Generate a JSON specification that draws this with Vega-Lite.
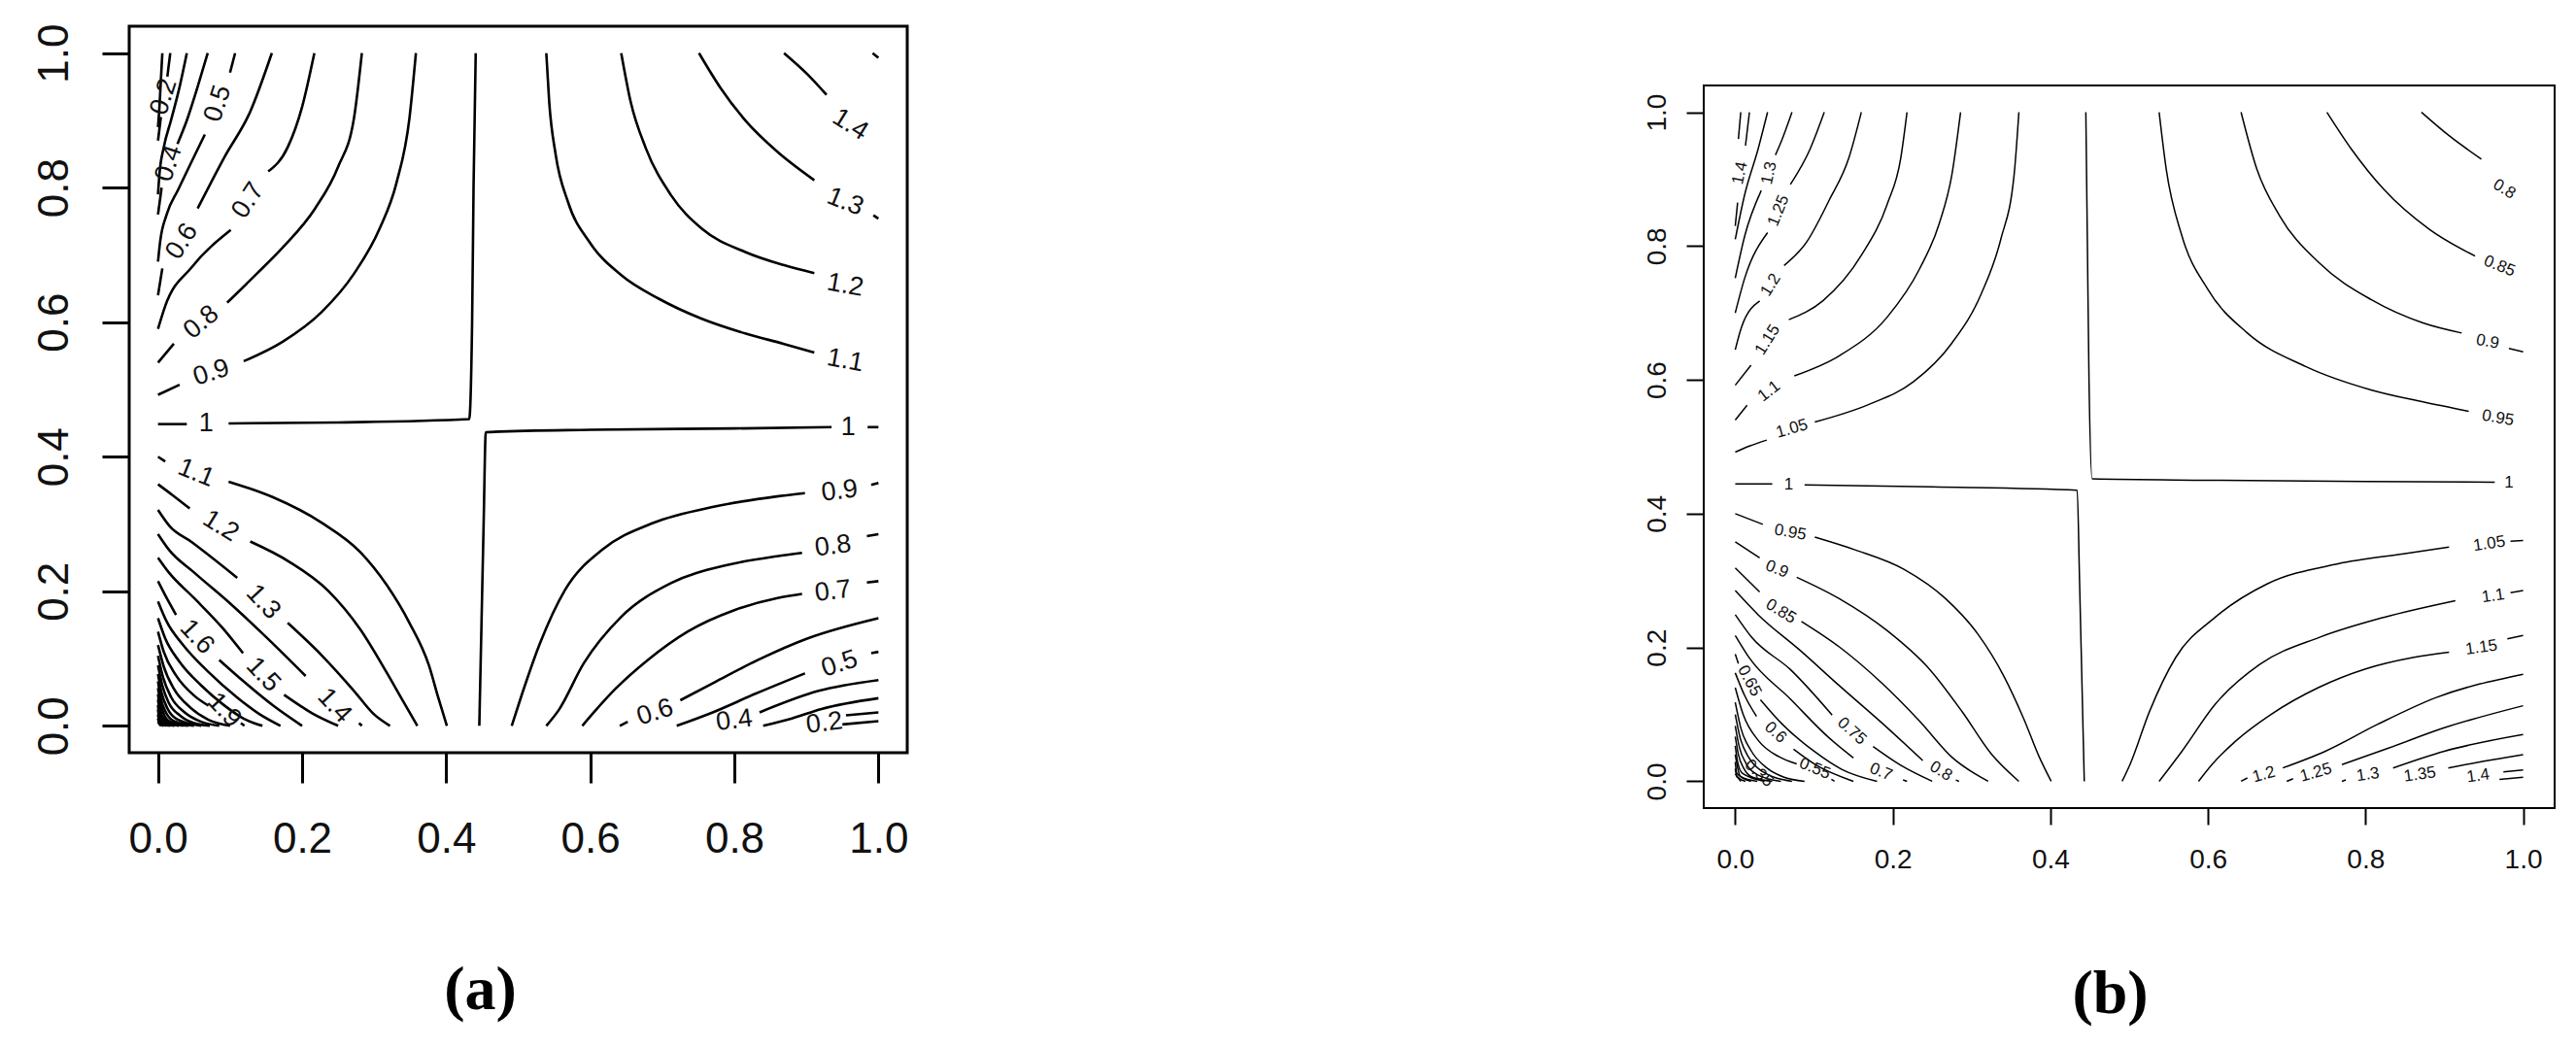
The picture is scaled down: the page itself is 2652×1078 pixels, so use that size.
{
"$schema":"https://vega.github.io/schema/vega-lite/v6.json",
"background":"white",
"padding":{"left":32,"top":22,"right":5,"bottom":5},
"config":{"font":"Liberation Sans"},
"datasets":{
"ca":[
{"s":"0.9","x":0.358,"y":1},{"s":"0.9","x":0.349,"y":0.903},{"s":"0.9","x":0.331,"y":0.807},{"s":"0.9","x":0.308,"y":0.74},{"s":"0.9","x":0.272,"y":0.672},{"s":"0.9","x":0.227,"y":0.615},{"s":"0.9","x":0.173,"y":0.571},{"s":"0.9","x":0.119,"y":0.542},
{"s":"0.9b","x":0.03,"y":0.507},{"s":"0.9b","x":0,"y":0.492},
{"s":"0.8","x":0.283,"y":1},{"s":"0.8","x":0.272,"y":0.903},{"s":"0.8","x":0.25,"y":0.831},{"s":"0.8","x":0.218,"y":0.769},{"s":"0.8","x":0.173,"y":0.711},{"s":"0.8","x":0.137,"y":0.672},{"s":"0.8","x":0.096,"y":0.629},
{"s":"0.8b","x":0.022,"y":0.568},{"s":"0.8b","x":0,"y":0.54},
{"s":"0.7","x":0.217,"y":1},{"s":"0.7","x":0.2,"y":0.92},{"s":"0.7","x":0.18,"y":0.86},{"s":"0.7","x":0.153,"y":0.824},
{"s":"0.7b","x":0.101,"y":0.737},{"s":"0.7b","x":0.047,"y":0.682},{"s":"0.7b","x":0.01,"y":0.624},{"s":"0.7b","x":0,"y":0.59},
{"s":"0.6","x":0.158,"y":1},{"s":"0.6","x":0.128,"y":0.913},{"s":"0.6","x":0.092,"y":0.845},{"s":"0.6","x":0.055,"y":0.769},
{"s":"0.6b","x":0.006,"y":0.68},{"s":"0.6b","x":0,"y":0.64},
{"s":"0.5","x":0.107,"y":1},{"s":"0.5","x":0.1,"y":0.971},
{"s":"0.5b","x":0.065,"y":0.879},{"s":"0.5b","x":0.045,"y":0.835},{"s":"0.5b","x":0.028,"y":0.797},{"s":"0.5b","x":0.012,"y":0.76},{"s":"0.5b","x":0.003,"y":0.72},{"s":"0.5b","x":0,"y":0.69},
{"s":"0.4","x":0.069,"y":1},{"s":"0.4","x":0.055,"y":0.95},{"s":"0.4","x":0.04,"y":0.9},{"s":"0.4","x":0.027,"y":0.865},
{"s":"0.4b","x":0.005,"y":0.8},{"s":"0.4b","x":0,"y":0.76},
{"s":"0.3","x":0.04,"y":1},{"s":"0.3","x":0.03,"y":0.95},{"s":"0.3","x":0.018,"y":0.9},{"s":"0.3","x":0.008,"y":0.86},{"s":"0.3","x":0.002,"y":0.82},{"s":"0.3","x":0,"y":0.79},
{"s":"0.2","x":0.017,"y":1},{"s":"0.2","x":0.013,"y":0.965},
{"s":"0.2b","x":0.004,"y":0.905},{"s":"0.2b","x":0,"y":0.87},
{"s":"0.1","x":0.006,"y":1},{"s":"0.1","x":0.004,"y":0.96},{"s":"0.1","x":0.002,"y":0.92},{"s":"0.1","x":0,"y":0.89},
{"s":"1a","x":0,"y":0.4485},{"s":"1a","x":0.04,"y":0.4485},
{"s":"1b","x":0.098,"y":0.4495},{"s":"1b","x":0.25,"y":0.451},{"s":"1b","x":0.432,"y":0.456},{"s":"1b","x":0.436,"y":0.6},{"s":"1b","x":0.438,"y":0.8},{"s":"1b","x":0.441,"y":1},
{"s":"1c","x":0.446,"y":0},{"s":"1c","x":0.449,"y":0.15},{"s":"1c","x":0.452,"y":0.3},{"s":"1c","x":0.455,"y":0.4365},{"s":"1c","x":0.6,"y":0.44},{"s":"1c","x":0.8,"y":0.442},{"s":"1c","x":0.935,"y":0.444},
{"s":"1d","x":0.985,"y":0.444},{"s":"1d","x":1,"y":0.444},
{"s":"1.1","x":0.539,"y":1},{"s":"1.1","x":0.543,"y":0.928},{"s":"1.1","x":0.552,"y":0.849},{"s":"1.1","x":0.569,"y":0.779},{"s":"1.1","x":0.599,"y":0.719},{"s":"1.1","x":0.643,"y":0.67},{"s":"1.1","x":0.695,"y":0.635},{"s":"1.1","x":0.755,"y":0.605},{"s":"1.1","x":0.816,"y":0.583},{"s":"1.1","x":0.868,"y":0.568},{"s":"1.1","x":0.911,"y":0.555},
{"s":"1.2","x":0.643,"y":1},{"s":"1.2","x":0.656,"y":0.928},{"s":"1.2","x":0.677,"y":0.859},{"s":"1.2","x":0.712,"y":0.789},{"s":"1.2","x":0.755,"y":0.739},{"s":"1.2","x":0.816,"y":0.704},{"s":"1.2","x":0.868,"y":0.685},{"s":"1.2","x":0.911,"y":0.673},
{"s":"1.3","x":0.751,"y":1},{"s":"1.3","x":0.781,"y":0.948},{"s":"1.3","x":0.816,"y":0.899},{"s":"1.3","x":0.859,"y":0.854},{"s":"1.3","x":0.911,"y":0.811},
{"s":"1.3b","x":0.993,"y":0.759},{"s":"1.3b","x":1,"y":0.754},
{"s":"1.4","x":0.869,"y":1},{"s":"1.4","x":0.902,"y":0.968},{"s":"1.4","x":0.928,"y":0.938},
{"s":"1.5","x":0.992,"y":1},{"s":"1.5","x":1,"y":0.993},
{"s":"0.9r","x":0.491,"y":0},{"s":"0.9r","x":0.504,"y":0.043},{"s":"0.9r","x":0.53,"y":0.122},{"s":"0.9r","x":0.565,"y":0.202},{"s":"0.9r","x":0.617,"y":0.262},{"s":"0.9r","x":0.686,"y":0.301},{"s":"0.9r","x":0.773,"y":0.326},{"s":"0.9r","x":0.859,"y":0.341},{"s":"0.9r","x":0.898,"y":0.346},
{"s":"0.9rb","x":0.99,"y":0.358},{"s":"0.9rb","x":1,"y":0.361},
{"s":"0.8r","x":0.539,"y":0},{"s":"0.8r","x":0.556,"y":0.023},{"s":"0.8r","x":0.591,"y":0.093},{"s":"0.8r","x":0.643,"y":0.162},{"s":"0.8r","x":0.712,"y":0.212},{"s":"0.8r","x":0.79,"y":0.239},{"s":"0.8r","x":0.859,"y":0.252},{"s":"0.8r","x":0.894,"y":0.257},
{"s":"0.8rb","x":0.984,"y":0.282},{"s":"0.8rb","x":1,"y":0.285},
{"s":"0.7r","x":0.589,"y":0},{"s":"0.7r","x":0.605,"y":0.02},{"s":"0.7r","x":0.635,"y":0.055},{"s":"0.7r","x":0.68,"y":0.098},{"s":"0.7r","x":0.735,"y":0.14},{"s":"0.7r","x":0.8,"y":0.172},{"s":"0.7r","x":0.86,"y":0.19},{"s":"0.7r","x":0.894,"y":0.196},
{"s":"0.7rb","x":0.984,"y":0.213},{"s":"0.7rb","x":1,"y":0.215},
{"s":"0.6r","x":0.641,"y":0},{"s":"0.6r","x":0.652,"y":0.006},
{"s":"0.6rb","x":0.725,"y":0.038},{"s":"0.6rb","x":0.773,"y":0.065},{"s":"0.6rb","x":0.833,"y":0.098},{"s":"0.6rb","x":0.902,"y":0.13},{"s":"0.6rb","x":1,"y":0.16},
{"s":"0.5r","x":0.72,"y":0},{"s":"0.5r","x":0.77,"y":0.02},{"s":"0.5r","x":0.83,"y":0.048},{"s":"0.5r","x":0.898,"y":0.078},
{"s":"0.5rb","x":0.99,"y":0.108},{"s":"0.5rb","x":1,"y":0.11},
{"s":"0.4rb","x":0.835,"y":0.02},{"s":"0.4rb","x":0.917,"y":0.052},{"s":"0.4rb","x":1,"y":0.068},
{"s":"0.3r","x":0.84,"y":0},{"s":"0.3r","x":0.88,"y":0.011},{"s":"0.3r","x":0.921,"y":0.025},{"s":"0.3r","x":1,"y":0.041},
{"s":"0.2rb","x":0.955,"y":0.0155},{"s":"0.2rb","x":1,"y":0.02},
{"s":"0.1r","x":0.95,"y":0.002},{"s":"0.1r","x":1,"y":0.007},
{"s":"1.1l","x":0,"y":0.4},{"s":"1.1l","x":0.01,"y":0.393},
{"s":"1.1lb","x":0.098,"y":0.363},{"s":"1.1lb","x":0.159,"y":0.34},{"s":"1.1lb","x":0.227,"y":0.302},{"s":"1.1lb","x":0.281,"y":0.258},{"s":"1.1lb","x":0.317,"y":0.21},{"s":"1.1lb","x":0.349,"y":0.153},{"s":"1.1lb","x":0.376,"y":0.09},{"s":"1.1lb","x":0.389,"y":0.042},{"s":"1.1lb","x":0.401,"y":0},
{"s":"1.2l","x":0,"y":0.359},{"s":"1.2l","x":0.02,"y":0.343},{"s":"1.2l","x":0.044,"y":0.323},
{"s":"1.2lb","x":0.128,"y":0.274},{"s":"1.2lb","x":0.182,"y":0.244},{"s":"1.2lb","x":0.236,"y":0.201},{"s":"1.2lb","x":0.281,"y":0.143},{"s":"1.2lb","x":0.317,"y":0.08},{"s":"1.2lb","x":0.34,"y":0.037},{"s":"1.2lb","x":0.36,"y":0},
{"s":"1.3l","x":0,"y":0.321},{"s":"1.3l","x":0.016,"y":0.297},{"s":"1.3l","x":0.047,"y":0.273},{"s":"1.3l","x":0.11,"y":0.22},
{"s":"1.3lb","x":0.18,"y":0.153},{"s":"1.3lb","x":0.227,"y":0.105},{"s":"1.3lb","x":0.272,"y":0.052},{"s":"1.3lb","x":0.299,"y":0.018},{"s":"1.3lb","x":0.322,"y":0},
{"s":"1.4l","x":0,"y":0.285},{"s":"1.4l","x":0.015,"y":0.262},{"s":"1.4l","x":0.05,"y":0.228},{"s":"1.4l","x":0.1,"y":0.182},{"s":"1.4l","x":0.15,"y":0.132},{"s":"1.4l","x":0.205,"y":0.074},
{"s":"1.4lb","x":0.279,"y":0.004},{"s":"1.4lb","x":0.283,"y":0},
{"s":"1.5l","x":0,"y":0.25},{"s":"1.5l","x":0.015,"y":0.228},{"s":"1.5l","x":0.05,"y":0.19},{"s":"1.5l","x":0.09,"y":0.145},{"s":"1.5l","x":0.118,"y":0.108},
{"s":"1.5lb","x":0.175,"y":0.046},{"s":"1.5lb","x":0.215,"y":0.018},{"s":"1.5lb","x":0.25,"y":0},
{"s":"1.6l","x":0,"y":0.215},{"s":"1.6l","x":0.012,"y":0.19},{"s":"1.6l","x":0.025,"y":0.165},
{"s":"1.6lb","x":0.085,"y":0.098},{"s":"1.6lb","x":0.12,"y":0.065},{"s":"1.6lb","x":0.16,"y":0.03},{"s":"1.6lb","x":0.2,"y":0},
{"s":"1.7","x":0,"y":0.185},{"s":"1.7","x":0.012,"y":0.155},{"s":"1.7","x":0.035,"y":0.12},{"s":"1.7","x":0.07,"y":0.08},{"s":"1.7","x":0.11,"y":0.042},{"s":"1.7","x":0.14,"y":0.018},{"s":"1.7","x":0.17,"y":0},
{"s":"1.8","x":0,"y":0.16},{"s":"1.8","x":0.01,"y":0.13},{"s":"1.8","x":0.03,"y":0.095},{"s":"1.8","x":0.06,"y":0.06},{"s":"1.8","x":0.09,"y":0.032},{"s":"1.8","x":0.12,"y":0.01},{"s":"1.8","x":0.145,"y":0},
{"s":"1.9","x":0,"y":0.14},{"s":"1.9","x":0.008,"y":0.11},{"s":"1.9","x":0.025,"y":0.075},{"s":"1.9","x":0.05,"y":0.045},{"s":"1.9","x":0.07,"y":0.03},
{"s":"1.9b","x":0.115,"y":0.004},{"s":"1.9b","x":0.12,"y":0},
{"s":"2.0","x":0,"y":0.12},{"s":"2.0","x":0.008,"y":0.088},{"s":"2.0","x":0.022,"y":0.055},{"s":"2.0","x":0.045,"y":0.027},{"s":"2.0","x":0.07,"y":0.009},{"s":"2.0","x":0.1,"y":0},
{"s":"2.1","x":0,"y":0.104},{"s":"2.1","x":0.007,"y":0.072},{"s":"2.1","x":0.018,"y":0.043},{"s":"2.1","x":0.037,"y":0.02},{"s":"2.1","x":0.06,"y":0.006},{"s":"2.1","x":0.085,"y":0},
{"s":"2.2","x":0,"y":0.09},{"s":"2.2","x":0.006,"y":0.06},{"s":"2.2","x":0.015,"y":0.034},{"s":"2.2","x":0.031,"y":0.015},{"s":"2.2","x":0.05,"y":0.004},{"s":"2.2","x":0.072,"y":0},
{"s":"2.3","x":0,"y":0.077},{"s":"2.3","x":0.005,"y":0.049},{"s":"2.3","x":0.013,"y":0.026},{"s":"2.3","x":0.026,"y":0.01},{"s":"2.3","x":0.06,"y":0},
{"s":"2.4","x":0,"y":0.066},{"s":"2.4","x":0.004,"y":0.04},{"s":"2.4","x":0.011,"y":0.02},{"s":"2.4","x":0.022,"y":0.007},{"s":"2.4","x":0.05,"y":0},
{"s":"2.5","x":0,"y":0.056},{"s":"2.5","x":0.004,"y":0.032},{"s":"2.5","x":0.009,"y":0.015},{"s":"2.5","x":0.018,"y":0.005},{"s":"2.5","x":0.042,"y":0},
{"s":"2.6","x":0,"y":0.047},{"s":"2.6","x":0.003,"y":0.025},{"s":"2.6","x":0.008,"y":0.011},{"s":"2.6","x":0.035,"y":0},
{"s":"2.7","x":0,"y":0.039},{"s":"2.7","x":0.003,"y":0.019},{"s":"2.7","x":0.007,"y":0.008},{"s":"2.7","x":0.029,"y":0},
{"s":"2.8","x":0,"y":0.031},{"s":"2.8","x":0.002,"y":0.014},{"s":"2.8","x":0.006,"y":0.005},{"s":"2.8","x":0.023,"y":0},
{"s":"2.9","x":0,"y":0.024},{"s":"2.9","x":0.002,"y":0.01},{"s":"2.9","x":0.005,"y":0.003},{"s":"2.9","x":0.017,"y":0},
{"s":"3.0","x":0,"y":0.017},{"s":"3.0","x":0.002,"y":0.006},{"s":"3.0","x":0.012,"y":0},
{"s":"3.1","x":0,"y":0.011},{"s":"3.1","x":0.002,"y":0.003},{"s":"3.1","x":0.008,"y":0},
{"s":"3.2","x":0,"y":0.006},{"s":"3.2","x":0.004,"y":0}
],
"cb":[
{"s":"1.05","x":0.36,"y":1},{"s":"1.05","x":0.354,"y":0.907},{"s":"1.05","x":0.337,"y":0.81},{"s":"1.05","x":0.312,"y":0.728},{"s":"1.05","x":0.275,"y":0.655},{"s":"1.05","x":0.226,"y":0.597},{"s":"1.05","x":0.169,"y":0.563},{"s":"1.05","x":0.101,"y":0.537},
{"s":"1.05b","x":0.04,"y":0.51},{"s":"1.05b","x":0.018,"y":0.501},{"s":"1.05b","x":0,"y":0.492},
{"s":"1.1","x":0.286,"y":1},{"s":"1.1","x":0.275,"y":0.907},{"s":"1.1","x":0.259,"y":0.834},{"s":"1.1","x":0.234,"y":0.766},{"s":"1.1","x":0.193,"y":0.694},{"s":"1.1","x":0.132,"y":0.636},{"s":"1.1","x":0.075,"y":0.606},
{"s":"1.1b","x":0.015,"y":0.562},{"s":"1.1b","x":0,"y":0.54},
{"s":"1.15","x":0.218,"y":1},{"s":"1.15","x":0.21,"y":0.931},{"s":"1.15","x":0.193,"y":0.863},{"s":"1.15","x":0.16,"y":0.786},{"s":"1.15","x":0.111,"y":0.718},{"s":"1.15","x":0.068,"y":0.69},
{"s":"1.15b","x":0.02,"y":0.622},{"s":"1.15b","x":0,"y":0.592},
{"s":"1.2","x":0.16,"y":1},{"s":"1.2","x":0.144,"y":0.931},{"s":"1.2","x":0.119,"y":0.868},{"s":"1.2","x":0.09,"y":0.805},{"s":"1.2","x":0.062,"y":0.771},
{"s":"1.2b","x":0.031,"y":0.718},{"s":"1.2b","x":0.008,"y":0.679},{"s":"1.2b","x":0,"y":0.645},
{"s":"1.25","x":0.113,"y":1},{"s":"1.25","x":0.095,"y":0.945},{"s":"1.25","x":0.07,"y":0.892},
{"s":"1.25b","x":0.041,"y":0.82},{"s":"1.25b","x":0.012,"y":0.752},{"s":"1.25b","x":0,"y":0.7},
{"s":"1.3","x":0.072,"y":1},{"s":"1.3","x":0.058,"y":0.955},{"s":"1.3","x":0.051,"y":0.936},
{"s":"1.3b","x":0.033,"y":0.883},{"s":"1.3b","x":0.012,"y":0.815},{"s":"1.3b","x":0,"y":0.752},
{"s":"1.35","x":0.041,"y":1},{"s":"1.35","x":0.029,"y":0.945},{"s":"1.35","x":0.012,"y":0.877},{"s":"1.35","x":0,"y":0.81},
{"s":"1.4","x":0.018,"y":1},{"s":"1.4","x":0.013,"y":0.95},
{"s":"1.4b","x":0.003,"y":0.865},{"s":"1.4b","x":0,"y":0.83},
{"s":"1.45","x":0.007,"y":1},{"s":"1.45","x":0.004,"y":0.96},
{"s":"1u","x":0.445,"y":1},{"s":"1u","x":0.447,"y":0.8},{"s":"1u","x":0.449,"y":0.6},{"s":"1u","x":0.453,"y":0.452},{"s":"1u","x":0.6,"y":0.45},{"s":"1u","x":0.8,"y":0.448},{"s":"1u","x":0.964,"y":0.447},
{"s":"1d","x":0,"y":0.4445},{"s":"1d","x":0.047,"y":0.4445},
{"s":"1d2","x":0.088,"y":0.443},{"s":"1d2","x":0.25,"y":0.44},{"s":"1d2","x":0.434,"y":0.435},{"s":"1d2","x":0.437,"y":0.3},{"s":"1d2","x":0.44,"y":0.15},{"s":"1d2","x":0.443,"y":0},
{"s":"0.95","x":0.538,"y":1},{"s":"0.95","x":0.547,"y":0.915},{"s":"0.95","x":0.567,"y":0.815},{"s":"0.95","x":0.6,"y":0.735},{"s":"0.95","x":0.65,"y":0.67},{"s":"0.95","x":0.724,"y":0.62},{"s":"0.95","x":0.807,"y":0.585},{"s":"0.95","x":0.873,"y":0.567},{"s":"0.95","x":0.931,"y":0.553},
{"s":"0.9","x":0.642,"y":1},{"s":"0.9","x":0.662,"y":0.915},{"s":"0.9","x":0.691,"y":0.845},{"s":"0.9","x":0.741,"y":0.775},{"s":"0.9","x":0.807,"y":0.72},{"s":"0.9","x":0.873,"y":0.685},{"s":"0.9","x":0.922,"y":0.67},
{"s":"0.9b","x":0.982,"y":0.647},{"s":"0.9b","x":1,"y":0.642},
{"s":"0.85","x":0.751,"y":1},{"s":"0.85","x":0.782,"y":0.945},{"s":"0.85","x":0.823,"y":0.885},{"s":"0.85","x":0.881,"y":0.825},{"s":"0.85","x":0.939,"y":0.785},
{"s":"0.8","x":0.871,"y":1},{"s":"0.8","x":0.906,"y":0.965},{"s":"0.8","x":0.947,"y":0.93},
{"s":"0.95l","x":0,"y":0.4},{"s":"0.95l","x":0.035,"y":0.384},
{"s":"0.95lb","x":0.101,"y":0.365},{"s":"0.95lb","x":0.152,"y":0.346},{"s":"0.95lb","x":0.214,"y":0.317},{"s":"0.95lb","x":0.267,"y":0.273},{"s":"0.95lb","x":0.308,"y":0.22},{"s":"0.95lb","x":0.341,"y":0.157},{"s":"0.95lb","x":0.366,"y":0.094},{"s":"0.95lb","x":0.386,"y":0.036},{"s":"0.95lb","x":0.401,"y":0},
{"s":"0.9l","x":0,"y":0.358},{"s":"0.9l","x":0.031,"y":0.334},
{"s":"0.9lb","x":0.078,"y":0.305},{"s":"0.9lb","x":0.132,"y":0.273},{"s":"0.9lb","x":0.193,"y":0.225},{"s":"0.9lb","x":0.247,"y":0.167},{"s":"0.9lb","x":0.288,"y":0.104},{"s":"0.9lb","x":0.325,"y":0.041},{"s":"0.9lb","x":0.36,"y":0},
{"s":"0.85l","x":0,"y":0.319},{"s":"0.85l","x":0.031,"y":0.283},
{"s":"0.85lb","x":0.084,"y":0.239},{"s":"0.85lb","x":0.132,"y":0.201},{"s":"0.85lb","x":0.185,"y":0.148},{"s":"0.85lb","x":0.234,"y":0.09},{"s":"0.85lb","x":0.275,"y":0.036},{"s":"0.85lb","x":0.321,"y":0},
{"s":"0.8l","x":0,"y":0.285},{"s":"0.8l","x":0.029,"y":0.249},{"s":"0.8l","x":0.082,"y":0.196},{"s":"0.8l","x":0.132,"y":0.143},{"s":"0.8l","x":0.193,"y":0.08},{"s":"0.8l","x":0.238,"y":0.031},
{"s":"0.8lb","x":0.28,"y":0.002},{"s":"0.8lb","x":0.284,"y":0},
{"s":"0.75l","x":0,"y":0.249},{"s":"0.75l","x":0.021,"y":0.215},{"s":"0.75l","x":0.07,"y":0.167},{"s":"0.75l","x":0.123,"y":0.099},
{"s":"0.75lb","x":0.175,"y":0.052},{"s":"0.75lb","x":0.21,"y":0.024},{"s":"0.75lb","x":0.25,"y":0},
{"s":"0.7l","x":0,"y":0.218},{"s":"0.7l","x":0.017,"y":0.186},{"s":"0.7l","x":0.07,"y":0.123},{"s":"0.7l","x":0.119,"y":0.065},{"s":"0.7l","x":0.15,"y":0.035},
{"s":"0.7lb","x":0.213,"y":0.002},{"s":"0.7lb","x":0.218,"y":0},
{"s":"0.65l","x":0,"y":0.19},{"s":"0.65l","x":0.004,"y":0.176},
{"s":"0.65lb","x":0.032,"y":0.122},{"s":"0.65lb","x":0.06,"y":0.085},{"s":"0.65lb","x":0.1,"y":0.045},{"s":"0.65lb","x":0.135,"y":0.018},{"s":"0.65lb","x":0.18,"y":0},
{"s":"0.6l","x":0,"y":0.162},{"s":"0.6l","x":0.012,"y":0.128},{"s":"0.6l","x":0.027,"y":0.097},
{"s":"0.6lb","x":0.074,"y":0.048},{"s":"0.6lb","x":0.103,"y":0.024},{"s":"0.6lb","x":0.15,"y":0},
{"s":"0.55l","x":0,"y":0.14},{"s":"0.55l","x":0.01,"y":0.1},{"s":"0.55l","x":0.03,"y":0.06},{"s":"0.55l","x":0.055,"y":0.037},{"s":"0.55l","x":0.078,"y":0.026},
{"s":"0.55lb","x":0.122,"y":0.003},{"s":"0.55lb","x":0.126,"y":0},
{"s":"0.5l","x":0,"y":0.118},{"s":"0.5l","x":0.007,"y":0.08},{"s":"0.5l","x":0.02,"y":0.046},{"s":"0.5l","x":0.04,"y":0.02},{"s":"0.5l","x":0.062,"y":0.006},{"s":"0.5l","x":0.088,"y":0},
{"s":"0.45l","x":0,"y":0.1},{"s":"0.45l","x":0.006,"y":0.066},{"s":"0.45l","x":0.017,"y":0.036},{"s":"0.45l","x":0.034,"y":0.015},{"s":"0.45l","x":0.072,"y":0},
{"s":"0.4l","x":0,"y":0.083},{"s":"0.4l","x":0.005,"y":0.052},{"s":"0.4l","x":0.014,"y":0.026},{"s":"0.4l","x":0.028,"y":0.01},{"s":"0.4l","x":0.058,"y":0},
{"s":"0.35l","x":0,"y":0.067},{"s":"0.35l","x":0.004,"y":0.04},{"s":"0.35l","x":0.011,"y":0.019},{"s":"0.35l","x":0.022,"y":0.006},{"s":"0.35l","x":0.047,"y":0},
{"s":"0.3l","x":0,"y":0.053},{"s":"0.3l","x":0.003,"y":0.029},{"s":"0.3l","x":0.009,"y":0.012},{"s":"0.3l","x":0.037,"y":0},
{"s":"0.25l","x":0,"y":0.04},{"s":"0.25l","x":0.003,"y":0.02},{"s":"0.25l","x":0.007,"y":0.007},{"s":"0.25l","x":0.028,"y":0},
{"s":"0.2l","x":0,"y":0.029},{"s":"0.2l","x":0.002,"y":0.012},{"s":"0.2l","x":0.02,"y":0},
{"s":"0.15l","x":0,"y":0.019},{"s":"0.15l","x":0.002,"y":0.007},{"s":"0.15l","x":0.013,"y":0},
{"s":"0.1l","x":0,"y":0.011},{"s":"0.1l","x":0.007,"y":0},
{"s":"1.05r","x":0.491,"y":0},{"s":"1.05r","x":0.501,"y":0.025},{"s":"1.05r","x":0.526,"y":0.105},{"s":"1.05r","x":0.559,"y":0.185},{"s":"1.05r","x":0.609,"y":0.245},{"s":"1.05r","x":0.675,"y":0.295},{"s":"1.05r","x":0.765,"y":0.325},{"s":"1.05r","x":0.848,"y":0.34},{"s":"1.05r","x":0.906,"y":0.35},
{"s":"1.05rb","x":0.984,"y":0.359},{"s":"1.05rb","x":1,"y":0.36},
{"s":"1.1r","x":0.538,"y":0},{"s":"1.1r","x":0.567,"y":0.045},{"s":"1.1r","x":0.609,"y":0.115},{"s":"1.1r","x":0.666,"y":0.175},{"s":"1.1r","x":0.741,"y":0.215},{"s":"1.1r","x":0.823,"y":0.245},{"s":"1.1r","x":0.914,"y":0.27},
{"s":"1.1rb","x":0.984,"y":0.282},{"s":"1.1rb","x":1,"y":0.285},
{"s":"1.15r","x":0.588,"y":0},{"s":"1.15r","x":0.605,"y":0.025},{"s":"1.15r","x":0.635,"y":0.06},{"s":"1.15r","x":0.68,"y":0.1},{"s":"1.15r","x":0.74,"y":0.14},{"s":"1.15r","x":0.8,"y":0.168},{"s":"1.15r","x":0.86,"y":0.185},{"s":"1.15r","x":0.906,"y":0.193},
{"s":"1.15rb","x":0.98,"y":0.213},{"s":"1.15rb","x":1,"y":0.218},
{"s":"1.2r","x":0.642,"y":0},{"s":"1.2r","x":0.65,"y":0.005},
{"s":"1.2rb","x":0.695,"y":0.02},{"s":"1.2rb","x":0.749,"y":0.045},{"s":"1.2rb","x":0.815,"y":0.085},{"s":"1.2rb","x":0.889,"y":0.125},{"s":"1.2rb","x":1,"y":0.16},
{"s":"1.25r","x":0.7,"y":0},{"s":"1.25r","x":0.708,"y":0.004},
{"s":"1.25rb","x":0.77,"y":0.025},{"s":"1.25rb","x":0.83,"y":0.05},{"s":"1.25rb","x":0.9,"y":0.08},{"s":"1.25rb","x":1,"y":0.113},
{"s":"1.3r","x":0.77,"y":0},{"s":"1.3r","x":0.775,"y":0.002},
{"s":"1.3rb","x":0.835,"y":0.02},{"s":"1.3rb","x":0.9,"y":0.045},{"s":"1.3rb","x":1,"y":0.07},
{"s":"1.35rb","x":0.905,"y":0.02},{"s":"1.35rb","x":0.95,"y":0.03},{"s":"1.35rb","x":1,"y":0.04},
{"s":"1.4rb","x":0.975,"y":0.014},{"s":"1.4rb","x":1,"y":0.017},
{"s":"1.45r","x":0.97,"y":0.003},{"s":"1.45r","x":1,"y":0.006}
],
"a0":[{"x":0.067,"y":0.449,"t":"1"},{"x":0.958,"y":0.444,"t":"1"}],
"a10":[{"x":0.954,"y":0.543,"t":"1.1"},{"x":0.954,"y":0.655,"t":"1.2"}],
"a22":[{"x":0.954,"y":0.779,"t":"1.3"},{"x":0.053,"y":0.376,"t":"1.1"}],
"a32":[{"x":0.961,"y":0.894,"t":"1.4"},{"x":0.087,"y":0.297,"t":"1.2"}],
"a47":[{"x":0.146,"y":0.184,"t":"1.3"},{"x":0.054,"y":0.132,"t":"1.6"},{"x":0.146,"y":0.076,"t":"1.5"},{"x":0.245,"y":0.03,"t":"1.4"},{"x":0.092,"y":0.023,"t":"1.9"}],
"am7":[{"x":0.946,"y":0.349,"t":"0.9"},{"x":0.937,"y":0.267,"t":"0.8"},{"x":0.937,"y":0.2,"t":"0.7"},{"x":0.8,"y":0.008,"t":"0.4"},{"x":0.925,"y":0.004,"t":"0.2"}],
"am18":[{"x":0.946,"y":0.092,"t":"0.5"},{"x":0.69,"y":0.02,"t":"0.6"},{"x":0.074,"y":0.525,"t":"0.9"}],
"am40":[{"x":0.06,"y":0.6,"t":"0.8"}],
"am57":[{"x":0.125,"y":0.781,"t":"0.7"},{"x":0.033,"y":0.72,"t":"0.6"}],
"am72":[{"x":0.083,"y":0.925,"t":"0.5"},{"x":0.015,"y":0.836,"t":"0.4"},{"x":0.008,"y":0.935,"t":"0.2"}],
"b0":[{"x":0.068,"y":0.443,"t":"1"},{"x":0.982,"y":0.447,"t":"1"}],
"b10":[{"x":0.968,"y":0.543,"t":"0.95"},{"x":0.07,"y":0.372,"t":"0.95"},{"x":0.955,"y":0.657,"t":"0.9"}],
"b22":[{"x":0.97,"y":0.77,"t":"0.85"},{"x":0.053,"y":0.317,"t":"0.9"},{"x":0.185,"y":0.014,"t":"0.7"},{"x":0.101,"y":0.019,"t":"0.55"}],
"b32":[{"x":0.976,"y":0.885,"t":"0.8"},{"x":0.058,"y":0.254,"t":"0.85"},{"x":0.261,"y":0.015,"t":"0.8"}],
"b42":[{"x":0.148,"y":0.075,"t":"0.75"},{"x":0.051,"y":0.073,"t":"0.6"},{"x":0.03,"y":0.012,"t":"0.35"}],
"b62":[{"x":0.018,"y":0.15,"t":"0.65"}],
"bm8":[{"x":0.957,"y":0.355,"t":"1.05"},{"x":0.962,"y":0.277,"t":"1.1"},{"x":0.947,"y":0.2,"t":"1.15"},{"x":0.803,"y":0.01,"t":"1.3"},{"x":0.869,"y":0.01,"t":"1.35"},{"x":0.943,"y":0.008,"t":"1.4"}],
"bm16":[{"x":0.671,"y":0.01,"t":"1.2"},{"x":0.737,"y":0.013,"t":"1.25"},{"x":0.072,"y":0.527,"t":"1.05"}],
"bm38":[{"x":0.043,"y":0.583,"t":"1.1"}],
"bm58":[{"x":0.041,"y":0.66,"t":"1.15"},{"x":0.045,"y":0.742,"t":"1.2"}],
"bm68":[{"x":0.055,"y":0.853,"t":"1.25"}],
"bm78":[{"x":0.043,"y":0.909,"t":"1.3"},{"x":0.006,"y":0.909,"t":"1.4"}]
},
"hconcat":[
{
"width":801,"height":748,
"view":{"stroke":"#000","strokeWidth":3},
"encoding":{
"x":{"field":"x","type":"quantitative","scale":{"domain":[-0.04,1.04],"nice":false,"zero":false},
"axis":{"values":[0,0.2,0.4,0.6,0.8,1],"format":".1f","grid":false,"domain":false,"tickSize":31,"tickWidth":3,"tickColor":"#000","labelFontSize":44,"labelFont":"Liberation Sans","labelColor":"#111","labelPadding":36,"labelFlush":false,"labelOverlap":false,"labelBound":false,"title":"(a)","titleFont":"Liberation Serif","titleFontSize":64,"titleFontWeight":"bold","titleColor":"#000","titleX":361,"titleY":244,"titleAlign":"center","titleBaseline":"middle","titleAngle":0}},
"y":{"field":"y","type":"quantitative","scale":{"domain":[-0.04,1.04],"nice":false,"zero":false},
"axis":{"values":[0,0.2,0.4,0.6,0.8,1],"format":".1f","grid":false,"domain":false,"tickSize":28,"tickWidth":3,"tickColor":"#000","labelFontSize":44,"labelFont":"Liberation Sans","labelColor":"#111","labelPadding":36,"labelAngle":270,"labelAlign":"center","labelBaseline":"alphabetic","labelFlush":false,"labelOverlap":false,"labelBound":false,"title":null}}
},
"layer":[
{"data":{"name":"ca"},"mark":{"type":"line","stroke":"#000","strokeWidth":2.6,"interpolate":"monotone"},"encoding":{"detail":{"field":"s","type":"nominal"},"order":{"value":null}}},
{"data":{"name":"a0"},"mark":{"type":"text","angle":0,"fontSize":27,"font":"Liberation Sans","fill":"#111"},"encoding":{"text":{"field":"t","type":"nominal"}}},
{"data":{"name":"a10"},"mark":{"type":"text","angle":10,"fontSize":27,"font":"Liberation Sans","fill":"#111"},"encoding":{"text":{"field":"t","type":"nominal"}}},
{"data":{"name":"a22"},"mark":{"type":"text","angle":22,"fontSize":27,"font":"Liberation Sans","fill":"#111"},"encoding":{"text":{"field":"t","type":"nominal"}}},
{"data":{"name":"a32"},"mark":{"type":"text","angle":32,"fontSize":27,"font":"Liberation Sans","fill":"#111"},"encoding":{"text":{"field":"t","type":"nominal"}}},
{"data":{"name":"a47"},"mark":{"type":"text","angle":47,"fontSize":27,"font":"Liberation Sans","fill":"#111"},"encoding":{"text":{"field":"t","type":"nominal"}}},
{"data":{"name":"am7"},"mark":{"type":"text","angle":353,"fontSize":27,"font":"Liberation Sans","fill":"#111"},"encoding":{"text":{"field":"t","type":"nominal"}}},
{"data":{"name":"am18"},"mark":{"type":"text","angle":342,"fontSize":27,"font":"Liberation Sans","fill":"#111"},"encoding":{"text":{"field":"t","type":"nominal"}}},
{"data":{"name":"am40"},"mark":{"type":"text","angle":320,"fontSize":27,"font":"Liberation Sans","fill":"#111"},"encoding":{"text":{"field":"t","type":"nominal"}}},
{"data":{"name":"am57"},"mark":{"type":"text","angle":303,"fontSize":27,"font":"Liberation Sans","fill":"#111"},"encoding":{"text":{"field":"t","type":"nominal"}}},
{"data":{"name":"am72"},"mark":{"type":"text","angle":288,"fontSize":27,"font":"Liberation Sans","fill":"#111"},"encoding":{"text":{"field":"t","type":"nominal"}}}
]
},
{
"vconcat":[
{"width":876,"height":1,"data":{"values":[{"k":0}]},"mark":{"type":"point","opacity":0},"view":{"stroke":null}},
{
"width":876,"height":744,
"view":{"stroke":"#000","strokeWidth":2},
"encoding":{
"x":{"field":"x","type":"quantitative","scale":{"domain":[-0.04,1.04],"nice":false,"zero":false},
"axis":{"values":[0,0.2,0.4,0.6,0.8,1],"format":".1f","grid":false,"domain":false,"tickSize":17,"tickWidth":2,"tickColor":"#000","labelFontSize":28,"labelFont":"Liberation Sans","labelColor":"#111","labelPadding":22,"labelFlush":false,"labelOverlap":false,"labelBound":false,"title":"(b)","titleFont":"Liberation Serif","titleFontSize":64,"titleFontWeight":"bold","titleColor":"#000","titleX":418,"titleY":191,"titleAlign":"center","titleBaseline":"middle","titleAngle":0}},
"y":{"field":"y","type":"quantitative","scale":{"domain":[-0.04,1.04],"nice":false,"zero":false},
"axis":{"values":[0,0.2,0.4,0.6,0.8,1],"format":".1f","grid":false,"domain":false,"tickSize":18,"tickWidth":2,"tickColor":"#000","labelFontSize":28,"labelFont":"Liberation Sans","labelColor":"#111","labelPadding":22,"labelAngle":270,"labelAlign":"center","labelBaseline":"alphabetic","labelFlush":false,"labelOverlap":false,"labelBound":false,"title":null}}
},
"layer":[
{"data":{"name":"cb"},"mark":{"type":"line","stroke":"#000","strokeWidth":1.5,"interpolate":"monotone"},"encoding":{"detail":{"field":"s","type":"nominal"},"order":{"value":null}}},
{"data":{"name":"b0"},"mark":{"type":"text","angle":0,"fontSize":17,"font":"Liberation Sans","fill":"#111"},"encoding":{"text":{"field":"t","type":"nominal"}}},
{"data":{"name":"b10"},"mark":{"type":"text","angle":10,"fontSize":17,"font":"Liberation Sans","fill":"#111"},"encoding":{"text":{"field":"t","type":"nominal"}}},
{"data":{"name":"b22"},"mark":{"type":"text","angle":22,"fontSize":17,"font":"Liberation Sans","fill":"#111"},"encoding":{"text":{"field":"t","type":"nominal"}}},
{"data":{"name":"b32"},"mark":{"type":"text","angle":32,"fontSize":17,"font":"Liberation Sans","fill":"#111"},"encoding":{"text":{"field":"t","type":"nominal"}}},
{"data":{"name":"b42"},"mark":{"type":"text","angle":42,"fontSize":17,"font":"Liberation Sans","fill":"#111"},"encoding":{"text":{"field":"t","type":"nominal"}}},
{"data":{"name":"b62"},"mark":{"type":"text","angle":62,"fontSize":17,"font":"Liberation Sans","fill":"#111"},"encoding":{"text":{"field":"t","type":"nominal"}}},
{"data":{"name":"bm8"},"mark":{"type":"text","angle":352,"fontSize":17,"font":"Liberation Sans","fill":"#111"},"encoding":{"text":{"field":"t","type":"nominal"}}},
{"data":{"name":"bm16"},"mark":{"type":"text","angle":344,"fontSize":17,"font":"Liberation Sans","fill":"#111"},"encoding":{"text":{"field":"t","type":"nominal"}}},
{"data":{"name":"bm38"},"mark":{"type":"text","angle":322,"fontSize":17,"font":"Liberation Sans","fill":"#111"},"encoding":{"text":{"field":"t","type":"nominal"}}},
{"data":{"name":"bm58"},"mark":{"type":"text","angle":302,"fontSize":17,"font":"Liberation Sans","fill":"#111"},"encoding":{"text":{"field":"t","type":"nominal"}}},
{"data":{"name":"bm68"},"mark":{"type":"text","angle":292,"fontSize":17,"font":"Liberation Sans","fill":"#111"},"encoding":{"text":{"field":"t","type":"nominal"}}},
{"data":{"name":"bm78"},"mark":{"type":"text","angle":282,"fontSize":17,"font":"Liberation Sans","fill":"#111"},"encoding":{"text":{"field":"t","type":"nominal"}}}
]
}
],
"spacing":60,
"bounds":"flush"
}
],
"spacing":820,
"bounds":"flush"
}
